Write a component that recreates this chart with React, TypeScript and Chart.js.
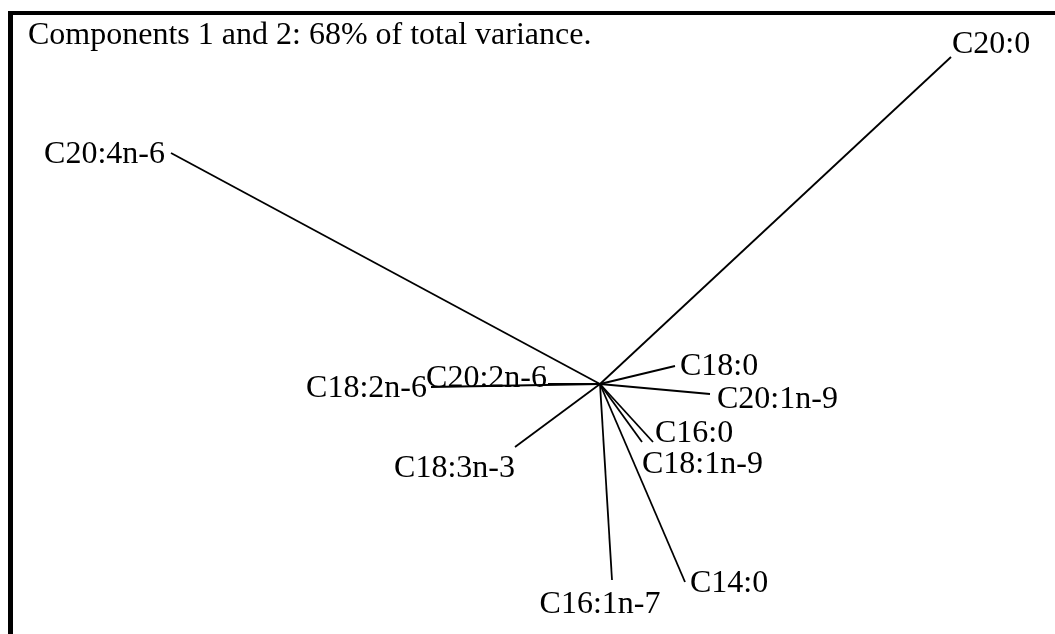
import React, { useEffect, useRef } from "react";
import { Chart, registerables } from "chart.js";

Chart.register(...registerables);

const titleText = "Components 1 and 2: 68% of total variance.";
const variables = ["C20:0", "C20:4n-6", "C18:2n-6", "C20:2n-6", "C18:3n-3", "C18:0", "C20:1n-9", "C16:0", "C18:1n-9", "C16:1n-7", "C14:0"];
const pc1 = [3.51, -4.29, -1.69, -0.52, -0.85, 0.75, 1.10, 0.53, 0.42, 0.12, 0.85];
const pc2 = [3.27, 2.31, -0.03, 0.00, -0.63, 0.18, -0.10, -0.58, -0.58, -1.96, -1.98];

// label placement (styling): text alignment and pixel offset from the arrow tip
const labelAlign: CanvasTextAlign[] = ["left", "right", "right", "right", "right", "left", "left", "left", "left", "center", "left"];
const labelDx = [1, -6, -4, -1, 0, 5, 7, 2, 0, -12, 5];
const labelDy = [-4, 10, 10, 3, 30, 9, 14, 0, 31, 33, 10];

const FONT = '32px "Liberation Serif", "Times New Roman", serif';

const decorPlugin = {
  id: "decor",
  afterDatasetsDraw(chart: any) {
    const ctx = chart.ctx as CanvasRenderingContext2D;
    const xs = chart.scales.x;
    const ys = chart.scales.y;
    ctx.save();
    ctx.fillStyle = "#000";
    // frame
    ctx.fillRect(8, 11, chart.width - 8, 4);
    ctx.fillRect(8, 11, 5, chart.height - 11);
    ctx.font = FONT;
    ctx.textBaseline = "alphabetic";
    ctx.textAlign = "left";
    ctx.fillText(titleText, 28, 44);
    variables.forEach((name, i) => {
      const px = xs.getPixelForValue(pc1[i]);
      const py = ys.getPixelForValue(pc2[i]);
      ctx.textAlign = labelAlign[i];
      ctx.fillText(name, px + labelDx[i], py + labelDy[i]);
    });
    ctx.restore();
  },
};

export default function App() {
  const ref = useRef<HTMLCanvasElement>(null);
  useEffect(() => {
    document.body.style.margin = "0";
    const canvas = ref.current!;
    const chart = new Chart(canvas, {
      type: "scatter",
      data: {
        datasets: variables.map((name, i) => ({
          label: name,
          data: [
            { x: 0, y: 0 },
            { x: pc1[i], y: pc2[i] },
          ],
          showLine: true,
          borderColor: "#000",
          borderWidth: 1.8,
          pointRadius: 0,
          pointHoverRadius: 0,
          fill: false,
        })),
      },
      options: {
        animation: false,
        responsive: false,
        events: [],
        layout: { padding: 0 },
        plugins: { legend: { display: false }, tooltip: { enabled: false }, title: { display: false } },
        scales: {
          x: { type: "linear", min: -6.0, max: 4.55, display: false },
          y: { type: "linear", min: -2.5, max: 3.84, display: false },
        },
      },
      plugins: [decorPlugin],
    });
    return () => chart.destroy();
  }, []);
  return (
    <div style={{ position: "fixed", left: 0, top: 0, width: 1055, height: 634, background: "#fff" }}>
      <canvas ref={ref} width={1055} height={634} style={{ display: "block" }} />
    </div>
  );
}
